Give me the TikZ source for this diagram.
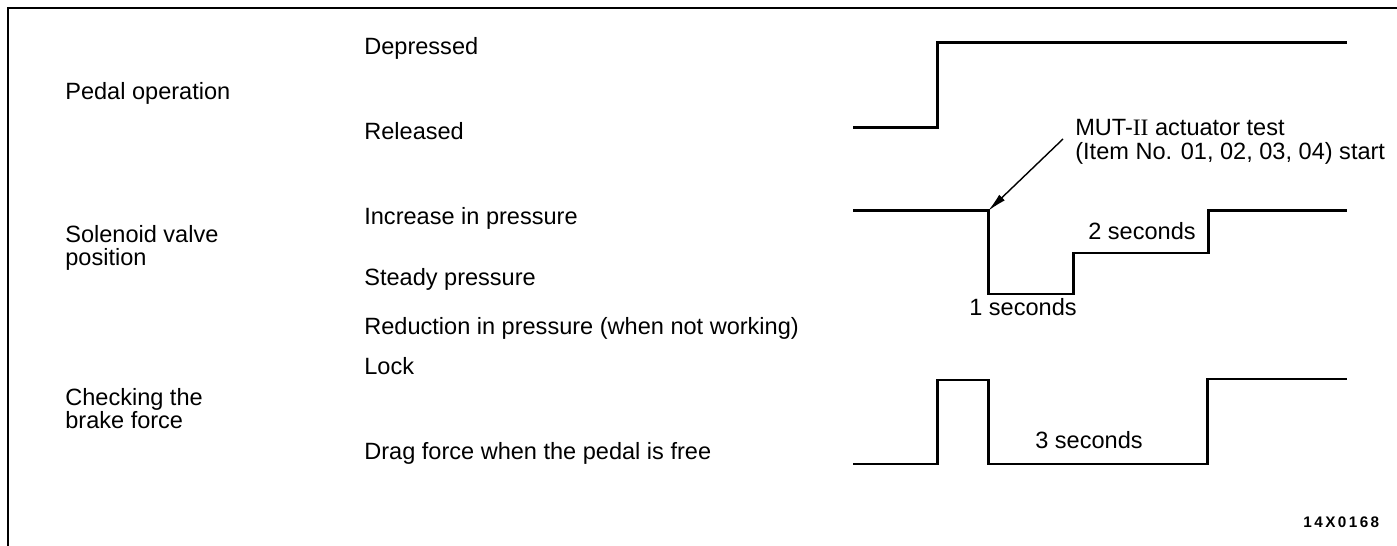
\documentclass[tikz,border=0pt]{standalone}
\usepackage{fontspec}
\setmainfont{Liberation Sans}
\newfontfamily\romanfont{Liberation Serif}
\usetikzlibrary{arrows.meta}

\begin{document}
\begin{tikzpicture}[x=0.02cm, y=-0.02cm, font=\fontsize{13.4}{13.3}\selectfont]
        \tikzstyle{label}=[anchor=base west, inner sep=0pt, align=left];
        \tikzstyle{period}=[anchor=base, inner sep=0pt];
        \tikzstyle{signal}=[line width=1.7pt, line join=miter];
        \tikzstyle{pointer}=[line width=0.8pt, -{Latex[length=11pt,width=4.5pt]}];

        \useasboundingbox (0,0) rectangle (1397,546);
        \draw[line width=1.1pt] (8,546) -- (8,8) -- (1397,8);

        % row titles (base = last line)
        \node[label] (pedal) at (65,100) {Pedal operation};
        \node[label] (valve) at (65,266) {Solenoid valve\\position};
        \node[label] (brake) at (65,429) {Checking the\\brake force};

        % states
        \node[label] (depressed) at (364,55) {Depressed};
        \node[label] (released) at (364,140) {Released};
        \node[label] (increase) at (364,225) {Increase in pressure};
        \node[label] (steady) at (364,286) {Steady pressure};
        \node[label] (reduction) at (364,335) {Reduction in pressure (when not working)};
        \node[label] (lock) at (364,375) {Lock};
        \node[label] (drag) at (364,460) {Drag force when the pedal is free};

        % signals
        \draw[signal] (853,128) -- (937,128) -- (937,43) -- (1347,43);
        \draw[signal] (853,211) -- (988,211) -- (988,294) -- (1073,294) -- (1073,253)
                -- (1208,253) -- (1208,211) -- (1347,211);
        \draw[signal] (853,464) -- (937,464) -- (937,380) -- (988,380) -- (988,464)
                -- (1207,464) -- (1207,379) -- (1347,379);

        \node[period] (onesec) at (1023,316) {1 seconds};
        \node[period] (twosec) at (1142,240) {2 seconds};
        \node[period] (threesec) at (1089,449) {3 seconds};

        % actuator test start
        \node[label, font=\fontsize{13.4}{14.2}\selectfont] (mut) at (1075,160)
                {MUT-{\romanfont II} actuator test\\(Item No. 01, 02, 03, 04) start};
        \coordinate (pointerstart) at (1063,139);
        \coordinate (teststart) at (988,211);
        \draw[pointer] (pointerstart) -- (teststart);

        \node[label, font=\fontsize{8.7}{8.7}\bfseries\addfontfeature{LetterSpace=16}] (figno) at (1303,528) {14X0168};
    \end{tikzpicture}
\end{document}
